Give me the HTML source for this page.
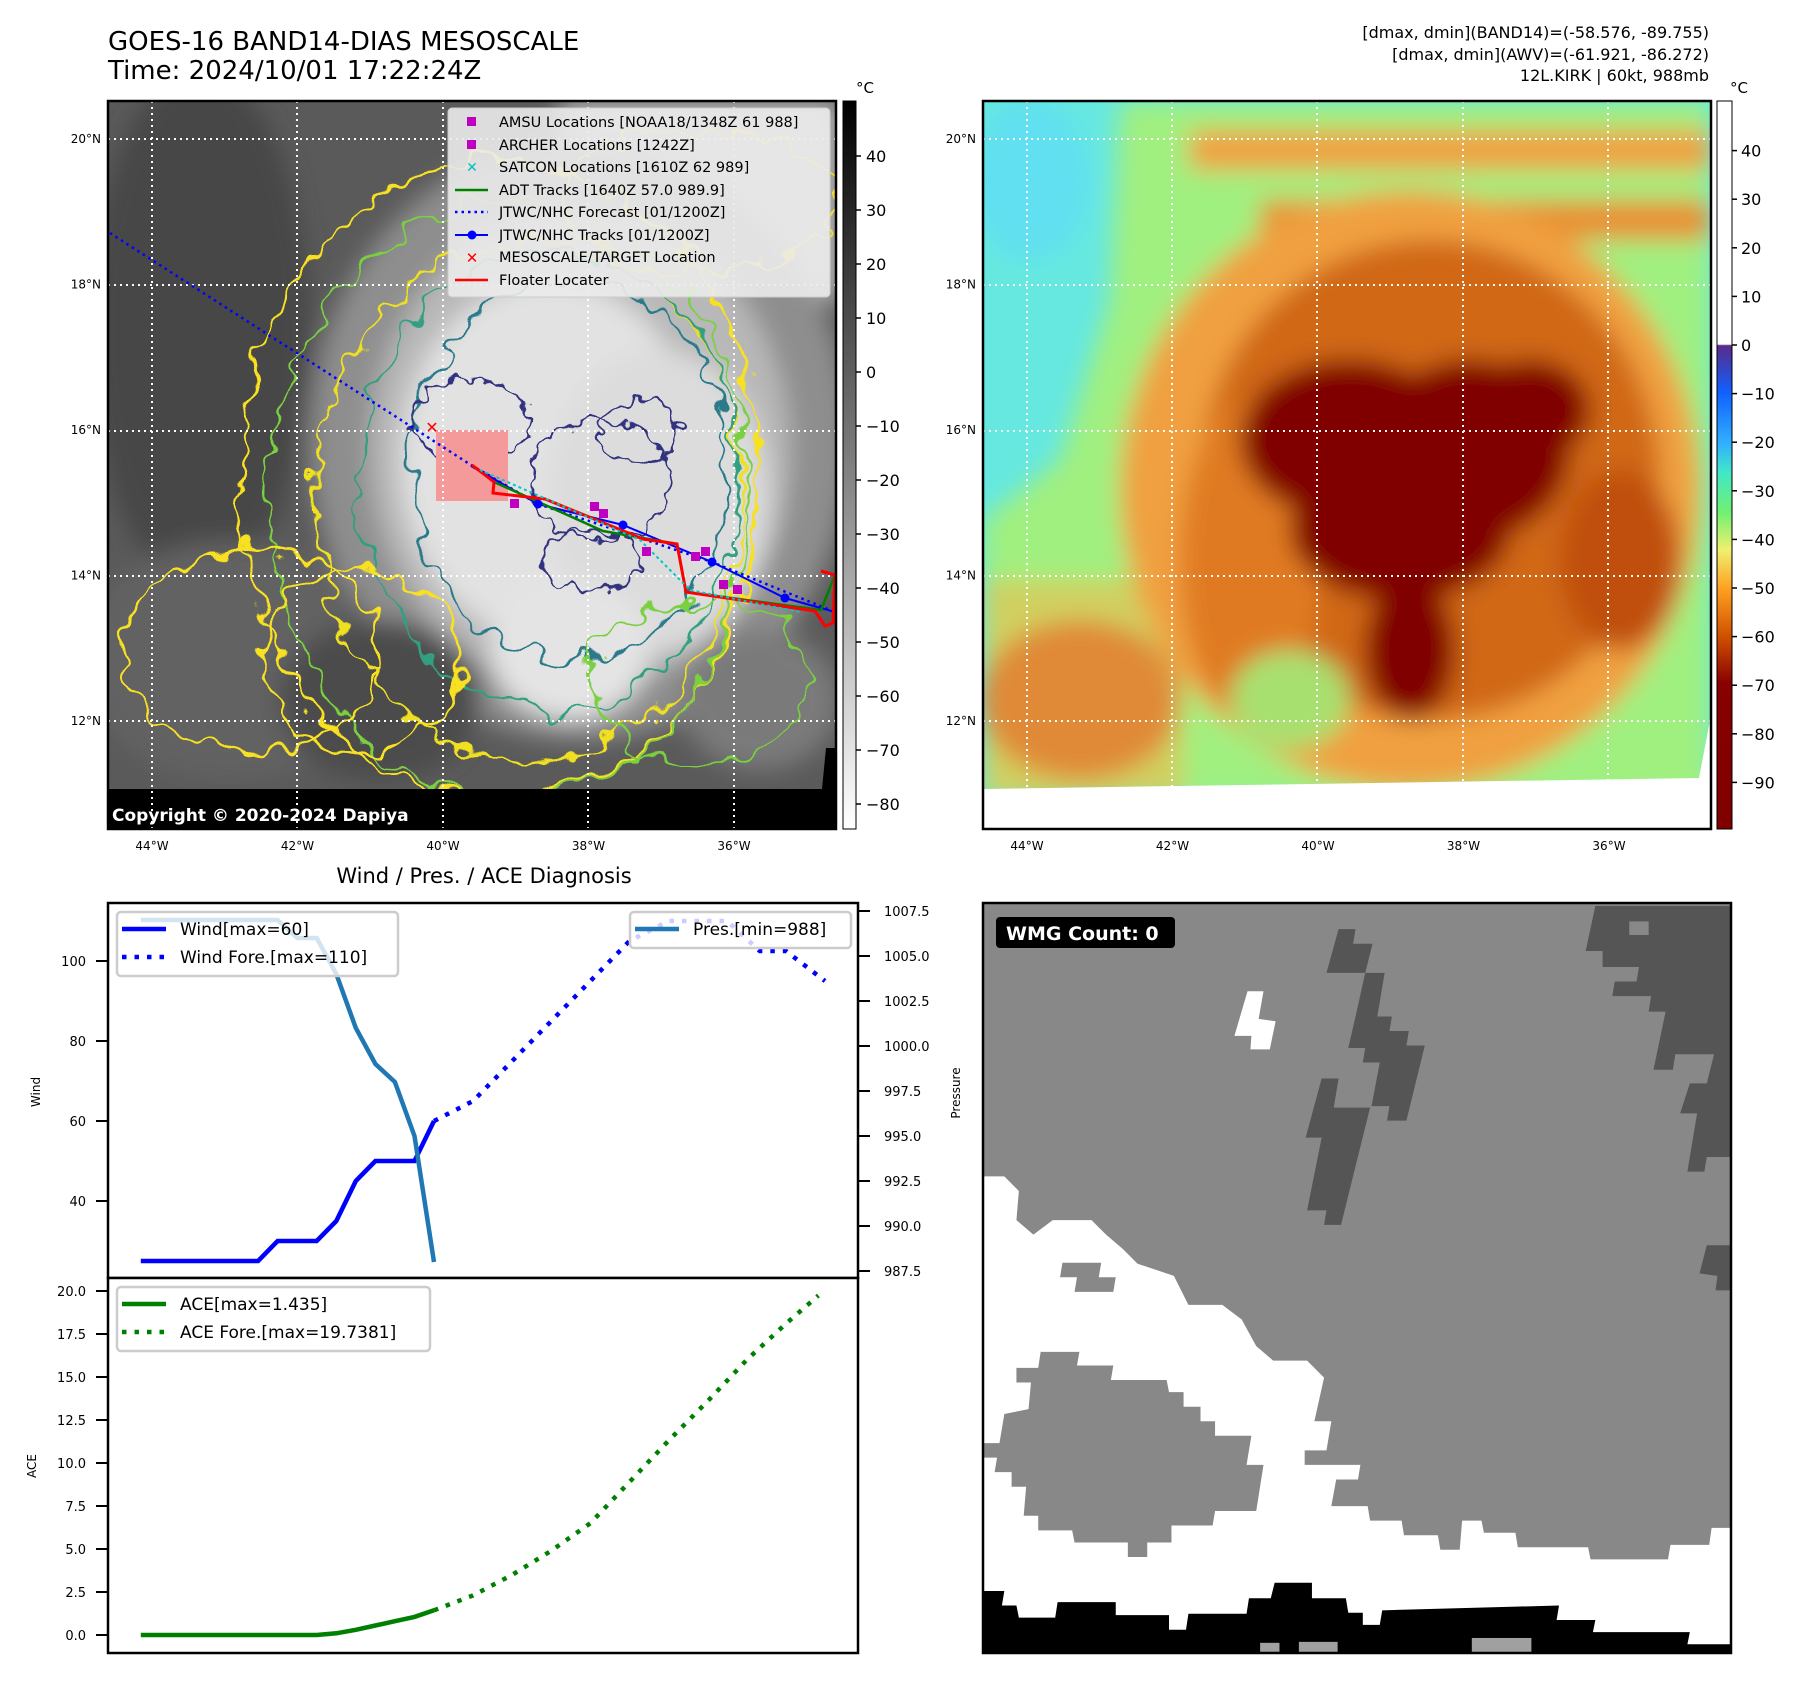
<!DOCTYPE html>
<html><head><meta charset="utf-8">
<style>
html,body{margin:0;padding:0;background:#fff;}
svg{display:block;font-family:"DejaVu Sans","Liberation Sans",sans-serif;}
</style></head>
<body>
<svg id="page" width="1801" height="1690" viewBox="0 0 1801 1690" xmlns="http://www.w3.org/2000/svg">
<defs>
  <clipPath id="clipL"><rect x="108" y="101" width="728" height="728"/></clipPath>
  <clipPath id="clipR"><rect x="983" y="101" width="728" height="728"/></clipPath>
  <filter id="blur12" x="-20%" y="-20%" width="140%" height="140%"><feGaussianBlur stdDeviation="12"/></filter>
  <filter id="blur6" x="-20%" y="-20%" width="140%" height="140%"><feGaussianBlur stdDeviation="6"/></filter>
  <filter id="wig" x="-10%" y="-10%" width="120%" height="120%">
    <feTurbulence type="fractalNoise" baseFrequency="0.035" numOctaves="2" seed="3" result="n"/>
    <feDisplacementMap in="SourceGraphic" in2="n" scale="38" xChannelSelector="R" yChannelSelector="G"/>
  </filter>
  <filter id="wig2" x="-10%" y="-10%" width="120%" height="120%">
    <feTurbulence type="fractalNoise" baseFrequency="0.06" numOctaves="2" seed="7" result="n"/>
    <feDisplacementMap in="SourceGraphic" in2="n" scale="26" xChannelSelector="R" yChannelSelector="G"/>
  </filter>
  <linearGradient id="cbGray" x1="0" y1="0" x2="0" y2="1">
    <stop offset="0" stop-color="#000"/><stop offset="1" stop-color="#fff"/>
  </linearGradient>
  <linearGradient id="cbAwv" x1="0" y1="0" x2="0" y2="1">
    <stop offset="0" stop-color="#fff"/><stop offset="0.334" stop-color="#fff"/>
    <stop offset="0.336" stop-color="#5a2a8a"/><stop offset="0.40" stop-color="#1060ff"/>
    <stop offset="0.47" stop-color="#30b0ff"/><stop offset="0.51" stop-color="#40e8c8"/>
    <stop offset="0.565" stop-color="#70f070"/><stop offset="0.616" stop-color="#f0f070"/>
    <stop offset="0.67" stop-color="#ffa020"/><stop offset="0.736" stop-color="#d05000"/>
    <stop offset="0.80" stop-color="#880000"/><stop offset="1" stop-color="#800000"/>
  </linearGradient>
</defs>

<text x="108" y="50" font-size="26" fill="#000">GOES-16 BAND14-DIAS MESOSCALE</text>
<text x="108" y="79" font-size="26" fill="#000">Time: 2024/10/01 17:22:24Z</text>
<g font-size="16" text-anchor="end" fill="#000">
  <text x="1709" y="38">[dmax, dmin](BAND14)=(-58.576, -89.755)</text>
  <text x="1709" y="60">[dmax, dmin](AWV)=(-61.921, -86.272)</text>
  <text x="1709" y="81">12L.KIRK | 60kt, 988mb</text>
</g>

<g clip-path="url(#clipL)">
  <rect x="108" y="101" width="728" height="728" fill="#5a5a5a"/>
  <g filter="url(#blur12)">
    <ellipse cx="200" cy="330" rx="110" ry="260" fill="#474747"/>
    <rect x="560" y="101" width="280" height="200" fill="#b8b8b8"/>
    <ellipse cx="580" cy="440" rx="270" ry="300" fill="#8e8e8e"/>
    <ellipse cx="580" cy="450" rx="210" ry="240" fill="#b8b8b8"/>
    <ellipse cx="550" cy="460" rx="150" ry="180" fill="#e2e2e2"/>
    <ellipse cx="660" cy="500" rx="110" ry="150" fill="#dcdcdc"/>
    <ellipse cx="570" cy="650" rx="80" ry="70" fill="#e4e4e4"/>
    <ellipse cx="230" cy="660" rx="150" ry="120" fill="#626262"/>
    <ellipse cx="380" cy="700" rx="100" ry="80" fill="#4c4c4c"/>
    <ellipse cx="760" cy="700" rx="80" ry="70" fill="#7a7a7a"/>
  </g>
  <g fill="none" filter="url(#wig)">
    <ellipse cx="500" cy="480" rx="260" ry="320" stroke="#f8e020" stroke-width="3"/>
    <ellipse cx="510" cy="500" rx="240" ry="300" stroke="#7ad040" stroke-width="2.5"/>
    <ellipse cx="530" cy="500" rx="215" ry="260" stroke="#f0e020" stroke-width="2.5"/>
    <ellipse cx="550" cy="480" rx="190" ry="230" stroke="#30a080" stroke-width="2.5"/>
    <ellipse cx="570" cy="470" rx="160" ry="190" stroke="#2a7a8a" stroke-width="2.5"/>
    <ellipse cx="250" cy="650" rx="130" ry="100" stroke="#f8e020" stroke-width="3"/>
    <ellipse cx="360" cy="660" rx="100" ry="90" stroke="#f8e020" stroke-width="3"/>
    <ellipse cx="700" cy="680" rx="110" ry="80" stroke="#7ad040" stroke-width="2.5"/>
    <ellipse cx="700" cy="200" rx="140" ry="70" stroke="#f8e020" stroke-width="2.5"/>
  </g>
  <g fill="none" filter="url(#wig2)" stroke="#303080" stroke-width="2.5">
    <ellipse cx="470" cy="420" rx="60" ry="40"/>
    <ellipse cx="600" cy="480" rx="70" ry="60"/>
    <ellipse cx="640" cy="430" rx="40" ry="30"/>
    <ellipse cx="590" cy="560" rx="50" ry="30"/>
  </g>
  <rect x="108" y="789" width="728" height="45" fill="#000"/>
  <polygon points="826,748 836,748 836,789 822,789" fill="#000"/>
  <rect x="436" y="430" width="72" height="71" fill="#f59a9a"/>
  <g stroke="#fff" stroke-width="2" stroke-dasharray="2 4">
    <line x1="108" y1="139" x2="836" y2="139"/><line x1="108" y1="285" x2="836" y2="285"/>
    <line x1="108" y1="431" x2="836" y2="431"/><line x1="108" y1="576" x2="836" y2="576"/>
    <line x1="108" y1="721" x2="836" y2="721"/>
    <line x1="152" y1="101" x2="152" y2="829"/><line x1="297" y1="101" x2="297" y2="829"/>
    <line x1="443" y1="101" x2="443" y2="829"/><line x1="588" y1="101" x2="588" y2="829"/>
    <line x1="734" y1="101" x2="734" y2="829"/>
  </g>
  <polyline points="110,233 471,465 538,504 712,562 835,612" fill="none" stroke="#0000ff" stroke-width="2.5" stroke-dasharray="2.5 4"/>
  <polyline points="471,466 538,504 623,525 712,562 785,598 835,612" fill="none" stroke="#0000ff" stroke-width="2"/>
  <polyline points="494,482 603,531 677,544 686,592 821,610 835,575" fill="none" stroke="#008000" stroke-width="2.5"/>
  <polyline points="472,465 494,482 493,493 545,499 643,539 677,544 686,592 815,611 825,626 833,623 835,575 821,571" fill="none" stroke="#ff0000" stroke-width="3"/>
  <g stroke="#00c8c8" stroke-width="2">
    <polyline points="480,470 560,505 640,540 690,590 800,612" fill="none" stroke-dasharray="3 3"/>
  </g>
  <g fill="#c000c0">
    <rect x="510" y="499" width="9" height="9"/><rect x="590" y="502" width="9" height="9"/>
    <rect x="599" y="509" width="9" height="9"/><rect x="642" y="547" width="9" height="9"/>
    <rect x="691" y="552" width="9" height="9"/><rect x="701" y="547" width="9" height="9"/>
    <rect x="719" y="580" width="9" height="9"/><rect x="733" y="585" width="9" height="9"/>
  </g>
  <g fill="#0000ff">
    <circle cx="538" cy="504" r="4.5"/><circle cx="623" cy="525" r="4.5"/>
    <circle cx="712" cy="562" r="4.5"/><circle cx="785" cy="598" r="4.5"/>
  </g>
  <text x="432" y="433" font-size="16" font-weight="bold" fill="#ff0000" text-anchor="middle">✕</text>
</g>
<rect x="108" y="101" width="728" height="728" fill="none" stroke="#000" stroke-width="2.5"/>
<text x="112" y="821" font-size="17" font-weight="bold" fill="#fff">Copyright © 2020-2024 Dapiya</text>

<g font-size="14.5" fill="#000">
  <rect x="448" y="108" width="382" height="189" rx="4" fill="#ebebeb" fill-opacity="0.9" stroke="#ccc"/>
  <rect x="467" y="117" width="9" height="9" fill="#c000c0"/><text x="499" y="127">AMSU Locations [NOAA18/1348Z 61 988]</text>
  <rect x="467" y="140" width="9" height="9" fill="#c000c0"/><text x="499" y="150">ARCHER Locations [1242Z]</text>
  <text x="472" y="172" fill="#00c0c0" font-size="14" text-anchor="middle" font-weight="bold">✕</text><text x="499" y="172">SATCON Locations [1610Z 62 989]</text>
  <line x1="455" y1="190" x2="488" y2="190" stroke="#008000" stroke-width="2.5"/><text x="499" y="195">ADT Tracks [1640Z 57.0 989.9]</text>
  <line x1="455" y1="212" x2="488" y2="212" stroke="#0000ff" stroke-width="2.5" stroke-dasharray="2.5 4"/><text x="499" y="217">JTWC/NHC Forecast [01/1200Z]</text>
  <line x1="455" y1="235" x2="488" y2="235" stroke="#0000ff" stroke-width="2"/><circle cx="472" cy="235" r="4.5" fill="#0000ff"/><text x="499" y="240">JTWC/NHC Tracks [01/1200Z]</text>
  <text x="472" y="263" fill="#ff0000" font-size="15" text-anchor="middle" font-weight="bold">✕</text><text x="499" y="262">MESOSCALE/TARGET Location</text>
  <line x1="455" y1="280" x2="488" y2="280" stroke="#ff0000" stroke-width="2.5"/><text x="499" y="285">Floater Locater</text>
</g>

<g>
  <rect x="843" y="101" width="13" height="728" fill="url(#cbGray)" stroke="#000" stroke-width="1"/>
  <text x="856" y="93" font-size="15">°C</text>
  <g id="cbLticks" font-size="16" fill="#000"></g>
</g>
<g id="latlonL" font-size="12" fill="#000"></g>

<g clip-path="url(#clipR)">
  <rect x="983" y="101" width="728" height="728" fill="#66e8e0"/>
  <g filter="url(#blur12)">
    <polygon points="1120,101 1711,101 1711,800 983,800 983,520 1060,460 1110,300" fill="#a0f080"/>
    <rect x="983" y="580" width="200" height="220" fill="#d0d060"/>
    <rect x="1190" y="130" width="520" height="40" fill="#f0a040"/>
    <rect x="1260" y="200" width="450" height="40" fill="#e89030"/>
    <ellipse cx="1410" cy="490" rx="290" ry="300" fill="#f0a040"/>
    <ellipse cx="1080" cy="700" rx="100" ry="80" fill="#e08a38"/>
    <ellipse cx="1430" cy="480" rx="230" ry="240" fill="#d06818"/>
    <ellipse cx="1250" cy="560" rx="70" ry="160" fill="#e07a20"/>
    <ellipse cx="1350" cy="440" rx="110" ry="80" fill="#800000"/>
    <ellipse cx="1470" cy="450" rx="100" ry="90" fill="#800000"/>
    <ellipse cx="1530" cy="410" rx="60" ry="50" fill="#800000"/>
    <ellipse cx="1400" cy="530" rx="110" ry="70" fill="#800000"/>
    <ellipse cx="1410" cy="650" rx="45" ry="70" fill="#800000"/>
    <ellipse cx="1620" cy="560" rx="60" ry="90" fill="#c05010"/>
    <ellipse cx="1290" cy="700" rx="60" ry="50" fill="#a8e070"/>
    <ellipse cx="1030" cy="180" rx="60" ry="80" fill="#60e0f0"/>
  </g>
  <polygon points="983,789 1699,778 1711,715 1711,829 983,829" fill="#fff"/>
  <g stroke="#fff" stroke-width="2" stroke-dasharray="2 4">
    <line x1="983" y1="139" x2="1711" y2="139"/><line x1="983" y1="285" x2="1711" y2="285"/>
    <line x1="983" y1="431" x2="1711" y2="431"/><line x1="983" y1="576" x2="1711" y2="576"/>
    <line x1="983" y1="721" x2="1711" y2="721"/>
    <line x1="1027" y1="101" x2="1027" y2="789"/><line x1="1172" y1="101" x2="1172" y2="789"/>
    <line x1="1317" y1="101" x2="1317" y2="789"/><line x1="1463" y1="101" x2="1463" y2="789"/>
    <line x1="1608" y1="101" x2="1608" y2="789"/>
  </g>
</g>
<rect x="983" y="101" width="728" height="728" fill="none" stroke="#000" stroke-width="2.5"/>
<g>
  <rect x="1717" y="101" width="15" height="728" fill="url(#cbAwv)" stroke="#000" stroke-width="1"/>
  <text x="1730" y="93" font-size="15">°C</text>
  <g id="cbRticks" font-size="16" fill="#000"></g>
</g>
<g id="latlonR" font-size="12" fill="#000"></g>

<text x="484" y="883" font-size="21" text-anchor="middle">Wind / Pres. / ACE Diagnosis</text>
<g id="chart"></g>

<g>
  <svg x="983" y="903" width="748" height="750" viewBox="6 6 1544 1547" preserveAspectRatio="none">
    <rect x="0" y="0" width="1560" height="1560" fill="#888"/>
    <polygon fill="#fff" points="0,570 50,570 80,600 75,660 110,690 150,660 230,660 260,690 295,720 325,750 400,775 430,835 500,835 540,865 570,920 605,950 675,950 710,985 690,1075 725,1075 715,1135 670,1135 670,1165 785,1165 780,1195 735,1195 725,1250 800,1250 805,1280 870,1280 875,1310 945,1310 950,1340 990,1340 995,1280 1035,1280 1040,1305 1105,1305 1110,1335 1255,1335 1260,1360 1420,1360 1425,1330 1505,1330 1510,1295 1560,1295 1560,1560 0,1560"/>
    <polygon fill="#888" points="75,965 120,965 125,932 205,932 200,960 275,960 270,990 385,990 390,1015 420,1015 420,1045 455,1045 455,1075 485,1075 485,1105 560,1105 550,1165 585,1165 570,1260 485,1260 480,1290 395,1290 395,1325 345,1325 345,1355 305,1355 305,1325 195,1325 190,1300 120,1300 120,1270 90,1270 95,1210 65,1210 65,1180 30,1180 35,1150 0,1150 0,1120 40,1120 50,1060 100,1050 105,995 75,995"/>
    <polygon fill="#888" points="170,748 250,748 245,778 280,778 275,808 195,808 200,778 165,778"/>
    <polygon fill="#fff" points="552,188 585,188 575,245 610,250 598,308 558,308 560,280 525,280"/>
    <polygon fill="#000" points="1560,1535 1460,1535 1465,1510 1265,1510 1270,1485 1190,1485 1195,1455 830,1465 825,1495 790,1495 790,1470 760,1470 755,1440 685,1440 685,1408 608,1408 600,1440 555,1440 550,1472 430,1472 425,1505 390,1505 390,1475 280,1475 280,1448 160,1448 155,1480 80,1480 75,1455 45,1455 50,1425 0,1425 0,1560 1560,1560"/>
    <g fill="#a0a0a0"><rect x="578" y="1532" width="40" height="20"/><rect x="658" y="1530" width="80" height="22"/><rect x="1015" y="1522" width="123" height="30"/></g>
    <g fill="#555">
      <polygon points="740,60 775,60 770,90 810,90 795,150 835,150 820,240 850,240 845,270 885,270 880,300 918,300 880,455 840,455 845,425 808,425 825,335 790,335 795,305 760,305 775,240 795,150 715,150"/>
      <polygon points="705,368 740,368 730,428 805,428 745,670 710,670 715,640 675,640 705,490 672,490"/>
      <polygon points="1270,12 1560,12 1560,530 1500,530 1495,560 1460,560 1480,440 1445,440 1465,378 1500,378 1515,318 1435,318 1430,350 1390,350 1415,230 1380,230 1385,198 1305,198 1310,168 1355,168 1360,138 1285,138 1285,105 1250,105"/>
      <polygon points="1500,712 1560,712 1560,805 1518,805 1522,775 1485,770"/>
    </g>
    <rect x="1340" y="44" width="40" height="28" fill="#888"/>
  </svg>
  <rect x="983" y="903" width="748" height="750" fill="none" stroke="#000" stroke-width="2.5"/>
  <rect x="996" y="917" width="179" height="31" rx="4" fill="#000"/>
  <text x="1006" y="940" font-size="19" font-weight="bold" fill="#fff">WMG Count: 0</text>
</g>
</svg>

<script>
const actualHours = [-90,-84,-78,-72,-66,-60,-54,-48,-42,-36,-30,-24,-18,-12,-6,0];
const windActual = [25,25,25,25,25,25,25,30,30,30,35,45,50,50,50,60];
const presActual = [1007,1007,1007,1007,1007,1007,1007,1007,1006,1006,1004,1001,999,998,995,988];
const aceActual = [0,0,0,0,0,0,0,0,0,0,0.1,0.3,0.55,0.8,1.05,1.435];
const foreHours = [0,12,24,36,48,60,72,90,100,108,120];
const windFore = [60,65,75,85,95,105,110,110,102.5,102.5,95];
const aceForeHours = [0,12,24,36,48,60,72,84,96,108,118];
const aceFore = [1.435,2.3,3.5,4.9,6.5,8.9,11.3,13.6,16.0,18.1,19.74];
const windTicks = [40,60,80,100];
const presTicks = [987.5,990.0,992.5,995.0,997.5,1000.0,1002.5,1005.0,1007.5];
const aceTicks = [0,2.5,5,7.5,10,12.5,15,17.5,20];
const cbLTicks = [40,30,20,10,0,-10,-20,-30,-40,-50,-60,-70,-80];
const cbRTicks = [40,30,20,10,0,-10,-20,-30,-40,-50,-60,-70,-80,-90];
const latTicks = [20,18,16,14,12];
const lonTicks = [44,42,40,38,36];

const NS = 'http://www.w3.org/2000/svg';
function mk(tag, attrs, parent){
  const e = document.createElementNS(NS, tag);
  for (const k in attrs) e.setAttribute(k, attrs[k]);
  parent.appendChild(e);
  return e;
}
const xOf = h => 434 + h * 3.258;
const yWind = w => 1201 - (w - 40) * 4;
const yPres = p => 1136 - (p - 995) * 18;
const yAce = a => 1635 - a * 17.2;

const chart = document.getElementById('chart');



const f1 = mk('rect', {x:108, y:903, width:750, height:375, fill:'#fff', stroke:'#000', 'stroke-width':2.5}, chart);


const f2 = mk('rect', {x:108, y:1278, width:750, height:375, fill:'#fff', stroke:'#000', 'stroke-width':2.5}, chart);



windTicks.forEach(v => {
  const y = yWind(v);
  mk('line', {x1:96, y1:y, x2:108, y2:y, stroke:'#000', 'stroke-width':2}, chart);
  const t = mk('text', {x:86, y:y+5, 'font-size':13, 'text-anchor':'end'}, chart);
  t.textContent = v;
  
  
});
presTicks.forEach(v => {
  const y = yPres(v);
  mk('line', {x1:858, y1:y, x2:870, y2:y, stroke:'#000', 'stroke-width':2}, chart);
  const t = mk('text', {x:884, y:y+5, 'font-size':13}, chart);
  t.textContent = v.toFixed(1);
  
  
});
aceTicks.forEach(v => {
  const y = yAce(v);
  mk('line', {x1:96, y1:y, x2:108, y2:y, stroke:'#000', 'stroke-width':2}, chart);
  const t = mk('text', {x:86, y:y+5, 'font-size':13, 'text-anchor':'end'}, chart);
  t.textContent = v.toFixed(1);
  
  
});
const wl = mk('text', {x:0, y:0, 'font-size':12, 'text-anchor':'middle', transform:'translate(40,1092) rotate(-90)'}, chart);
wl.textContent = 'Wind';


const pl = mk('text', {x:0, y:0, 'font-size':12, 'text-anchor':'middle', transform:'translate(960,1093) rotate(-90)'}, chart);
pl.textContent = 'Pressure';


const al = mk('text', {x:0, y:0, 'font-size':12, 'text-anchor':'middle', transform:'translate(36,1466) rotate(-90)'}, chart);
al.textContent = 'ACE';



function pts(hs, vs, yf){ return hs.map((h,i) => xOf(h).toFixed(1) + ',' + yf(vs[i]).toFixed(1)).join(' '); }

const wa = mk('polyline', {points:pts(actualHours, windActual, yWind), fill:'none', stroke:'#0000ff', 'stroke-width':4.5}, chart);


const wf = mk('polyline', {points:pts(foreHours, windFore, yWind), fill:'none', stroke:'#0000ff', 'stroke-width':4.5, 'stroke-dasharray':'4.5 8'}, chart);


const pa = mk('polyline', {points:pts(actualHours, presActual, yPres), fill:'none', stroke:'#1f77b4', 'stroke-width':4.5}, chart);


const aa = mk('polyline', {points:pts(actualHours, aceActual, yAce), fill:'none', stroke:'#008000', 'stroke-width':4.5}, chart);


const af = mk('polyline', {points:pts(aceForeHours, aceFore, yAce), fill:'none', stroke:'#008000', 'stroke-width':4.5, 'stroke-dasharray':'4.5 8'}, chart);



function legend(name, x, y, w, h, rows){
  const g = mk('g', {}, chart);
  
  
  mk('rect', {x:x, y:y, width:w, height:h, rx:4, fill:'#fff', 'fill-opacity':0.8, stroke:'#ccc', 'stroke-width':2.5}, g);
  rows.forEach((r, i) => {
    const ry = y + 17 + i * 28;
    const ln = {x1:x+5, y1:ry, x2:x+49, y2:ry, stroke:r.c, 'stroke-width':4.5};
    if (r.d) ln['stroke-dasharray'] = '4.5 8';
    mk('line', ln, g);
    const t = mk('text', {x:x+63, y:ry+6, 'font-size':17}, g);
    t.textContent = r.t;
  });
}
legend('wind-legend', 117, 912, 281, 64, [{c:'#0000ff', t:'Wind[max=60]'}, {c:'#0000ff', d:1, t:'Wind Fore.[max=110]'}]);
legend('pressure-legend', 630, 912, 221, 36, [{c:'#1f77b4', t:'Pres.[min=988]'}]);
legend('ace-legend', 117, 1287, 313, 64, [{c:'#008000', t:'ACE[max=1.435]'}, {c:'#008000', d:1, t:'ACE Fore.[max=19.7381]'}]);

const cbL = document.getElementById('cbLticks');
cbLTicks.forEach(v => {
  const y = 372 - v * 5.4;
  mk('line', {x1:856, y1:y, x2:861, y2:y, stroke:'#000', 'stroke-width':1.5}, cbL);
  const t = mk('text', {x:866, y:y+6}, cbL);
  t.textContent = v < 0 ? '\u2212' + (-v) : v;
});
const cbR = document.getElementById('cbRticks');
cbRTicks.forEach(v => {
  const y = 345 - v * 4.86;
  mk('line', {x1:1732, y1:y, x2:1737, y2:y, stroke:'#000', 'stroke-width':1.5}, cbR);
  const t = mk('text', {x:1741, y:y+6}, cbR);
  t.textContent = v < 0 ? '\u2212' + (-v) : v;
});

function latlon(id, labelX, lon0){
  const g = document.getElementById(id);
  latTicks.forEach((lat, i) => {
    const y = 139 + i * 145.5;
    const t = mk('text', {x:labelX, y:y+4, 'text-anchor':'end'}, g);
    t.textContent = lat + '°N';
  });
  lonTicks.forEach((lon, i) => {
    const x = lon0 + i * 145.5;
    const t = mk('text', {x:x, y:850, 'text-anchor':'middle'}, g);
    t.textContent = lon + '°W';
  });
}
latlon('latlonL', 101, 152);
latlon('latlonR', 976, 1027);
</script>
</body></html>
